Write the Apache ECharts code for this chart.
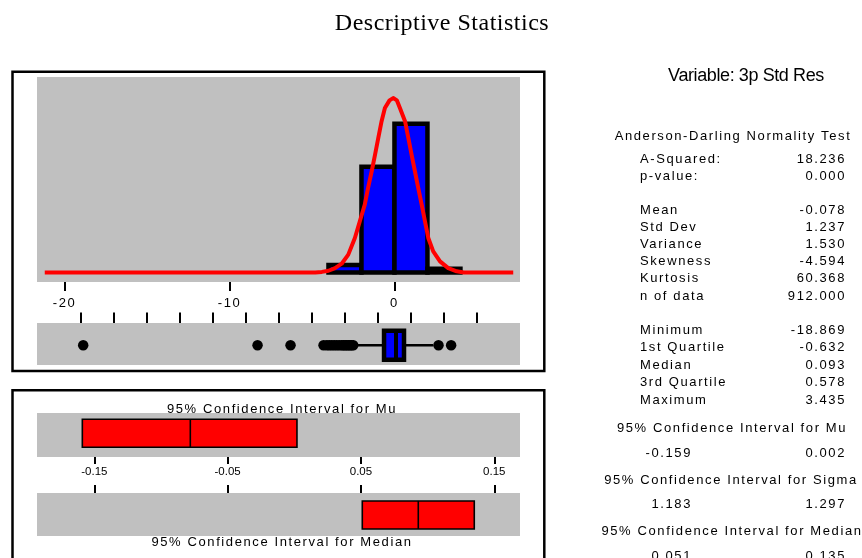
<!DOCTYPE html>
<html>
<head>
<meta charset="utf-8">
<script src="https://cdn.jsdelivr.net/npm/echarts@6/dist/echarts.min.js"></script>
<style>
  html, body { margin: 0; padding: 0; background: #fff; }
  #chart { width: 862px; height: 558px; }
</style>
</head>
<body>
<div id="chart"></div>
<script>
// ---- data -------------------------------------------------------------
// histogram of the standardized residuals (bin edges and counts)
const binLow    = [-4, -2, 0, 2];
const binHigh   = [-2,  0, 2, 4];
const binCounts = [26, 361, 508, 13];

// fitted normal curve, sampled along the axis
const curveX = [-21.2, -4.8, -4.4, -4.0, -3.6, -3.2, -2.8, -2.4, -2.1, -1.8, -1.6, -1.38, -1.18, -0.98, -0.78, -0.58, -0.3, -0.08, 0.15, 0.33, 0.64, 0.84, 1.04, 1.24, 1.44, 1.65, 1.85, 2.05, 2.35, 2.76, 3.26, 3.77, 4.2, 7.2];
const curveY = [0, 0, 2, 6, 15, 30, 61, 118, 175, 232, 289, 346, 402, 460, 517, 562, 588, 596, 588, 562, 517, 460, 402, 346, 289, 232, 175, 118, 72, 38, 15, 4, 0, 0];

// box plot
const quartiles = [-0.632, 0.093, 0.578];
const whiskers  = [-2.42, 2.35];
const outliers  = [-18.869, -8.3, -6.3, -4.3, -4.1, -3.95, -3.8, -3.65, -3.5, -3.35, -3.2, -3.1, -3.0, -2.9, -2.8, -2.7, -2.6, -2.5, 2.67, 3.435];

// confidence intervals [low, centre, high]
const muCI     = [-0.159, -0.078, 0.002];
const medianCI = [0.051, 0.093, 0.135];
const sigmaCI  = [1.183, 1.297];

// summary table
const adTest   = [['A-Squared:', 18.236], ['p-value:', 0.000]];
const moments  = [['Mean', -0.078], ['Std Dev', 1.237], ['Variance', 1.530], ['Skewness', -4.594], ['Kurtosis', 60.368], ['n of data', 912.000]];
const orderStats = [['Minimum', -18.869], ['1st Quartile', quartiles[0]], ['Median', quartiles[1]], ['3rd Quartile', quartiles[2]], ['Maximum', 3.435]];

// axis ticks
const histTicks = [-20, -10, 0];
const boxTicks  = [-19, -17, -15, -13, -11, -9, -7, -5, -3, -1, 1, 3, 5];
const ciTicks   = [-0.15, -0.05, 0.05, 0.15];

// ---- letter tracking per font family (canvas letterSpacing) ------------
const TRACKING = [
  [/Liberation Serif/, '0.5px'],
  [/Helvetica/, '0px'],
  [/Arial/, '-0.4px'],
  [/Liberation Sans/, '1.6px']
];
const nativeFillText = CanvasRenderingContext2D.prototype.fillText;
CanvasRenderingContext2D.prototype.fillText = function (text, x, y, maxWidth) {
  let sp = '0px';
  for (const [re, v] of TRACKING) { if (re.test(this.font)) { sp = v; break; } }
  if ('letterSpacing' in this) this.letterSpacing = sp;
  return maxWidth === undefined ? nativeFillText.call(this, text, x, y) : nativeFillText.call(this, text, x, y, maxWidth);
};

const F_WIDE  = '"Liberation Sans"';
const F_TIGHT = 'Arial, "Liberation Sans"';
const F_PLAIN = 'Helvetica, "Liberation Sans"';
const F_TITLE = '"Liberation Serif"';

const GRAY = '#c0c0c0';
const X_MIN = -21.67, X_MAX = 7.61;
const CI_MIN = -0.193, CI_MAX = 0.1693;

function fmt(v) { return v.toFixed(3); }
function txt(text, x, y, size, family, align) {
  return { type: 'text', x: x, y: y, z: 20, silent: true,
    style: { text: text, fontSize: size, fontFamily: family, fill: '#000',
      textAlign: align || 'left', textVerticalAlign: 'middle' } };
}

// ---- frames and summary text ---------------------------------------------
const graphics = [];
graphics.push({ type: 'rect', z: 1, shape: { x: 12.5, y: 71.8, width: 531.8, height: 299.2 },
  style: { fill: 'none', stroke: '#000', lineWidth: 2.5 } });
graphics.push({ type: 'rect', z: 1, shape: { x: 12.5, y: 390.2, width: 531.8, height: 220 },
  style: { fill: 'none', stroke: '#000', lineWidth: 2.5 } });

graphics.push(txt('Descriptive Statistics', 442, 24, 24, F_TITLE, 'center'));
graphics.push(txt('Variable: 3p Std Res', 746, 76, 18, F_TIGHT, 'center'));
graphics.push(txt('Anderson-Darling Normality Test', 733, 136, 13, F_WIDE, 'center'));

const LX = 640, RX = 846, LRX = 692;
const adY = [159, 176.5];
adTest.forEach((r, i) => { graphics.push(txt(r[0], LX, adY[i], 13, F_WIDE)); graphics.push(txt(fmt(r[1]), RX, adY[i], 13, F_WIDE, 'right')); });
moments.forEach((r, i) => { const y = 210.5 + i * 17.1; graphics.push(txt(r[0], LX, y, 13, F_WIDE)); graphics.push(txt(fmt(r[1]), RX, y, 13, F_WIDE, 'right')); });
orderStats.forEach((r, i) => { const y = 330.5 + i * 17.4; graphics.push(txt(r[0], LX, y, 13, F_WIDE)); graphics.push(txt(fmt(r[1]), RX, y, 13, F_WIDE, 'right')); });

graphics.push(txt('95% Confidence Interval for Mu', 732, 428, 13, F_WIDE, 'center'));
graphics.push(txt(fmt(muCI[0]), LRX, 453.5, 13, F_WIDE, 'right'));
graphics.push(txt(fmt(muCI[2]), RX, 453.5, 13, F_WIDE, 'right'));
graphics.push(txt('95% Confidence Interval for Sigma', 731, 480.5, 13, F_WIDE, 'center'));
graphics.push(txt(fmt(sigmaCI[0]), LRX, 504, 13, F_WIDE, 'right'));
graphics.push(txt(fmt(sigmaCI[1]), RX, 504, 13, F_WIDE, 'right'));
graphics.push(txt('95% Confidence Interval for Median', 732, 531.5, 13, F_WIDE, 'center'));
graphics.push(txt(fmt(medianCI[0]), LRX, 556.5, 13, F_WIDE, 'right'));
graphics.push(txt(fmt(medianCI[2]), RX, 556.5, 13, F_WIDE, 'right'));

graphics.push(txt('95% Confidence Interval for Mu', 282, 409.5, 13, F_WIDE, 'center'));
graphics.push(txt('95% Confidence Interval for Median', 282, 542.5, 13, F_WIDE, 'center'));

// ---- chart ------------------------------------------------------------
const chart = echarts.init(document.getElementById('chart'), null, { renderer: 'canvas' });

const hiddenY = (g, min, max) => ({ gridIndex: g, type: 'value', min: min, max: max, show: false });
const tickStyle = { color: '#000', width: 2 };
const noLine = { show: false, onZero: false };

function ciRenderer(centre) {
  return function (params, api) {
    const lo = api.coord([api.value(0), centre]);
    const mi = api.coord([api.value(1), centre]);
    const hi = api.coord([api.value(2), centre]);
    const h = 14;
    return { type: 'group', children: [
      { type: 'rect', shape: { x: lo[0], y: lo[1] - h, width: hi[0] - lo[0], height: 2 * h },
        style: { fill: '#ff0000', stroke: '#000', lineWidth: 1.6 } },
      { type: 'line', shape: { x1: mi[0], y1: lo[1] - h, x2: mi[0], y2: lo[1] + h },
        style: { stroke: '#000', lineWidth: 1.6 } }
    ] };
  };
}

const option = {
  animation: false,
  backgroundColor: '#fff',
  graphic: graphics,
  grid: [
    { left: 37, top: 77, width: 483, height: 205, show: true, backgroundColor: GRAY, borderWidth: 0 },
    { left: 37, top: 323, width: 483, height: 42, show: true, backgroundColor: GRAY, borderWidth: 0 },
    { left: 37, top: 413, width: 483, height: 44, show: true, backgroundColor: GRAY, borderWidth: 0 },
    { left: 37, top: 493, width: 483, height: 43, show: true, backgroundColor: GRAY, borderWidth: 0 }
  ],
  xAxis: [
    { gridIndex: 0, type: 'value', min: X_MIN, max: X_MAX, position: 'bottom',
      axisLine: noLine, splitLine: { show: false },
      axisTick: { show: true, customValues: histTicks, length: 9, lineStyle: tickStyle },
      axisLabel: { customValues: histTicks, margin: 15, color: '#000', fontSize: 13, fontFamily: F_WIDE } },
    { gridIndex: 1, type: 'value', min: X_MIN, max: X_MAX, position: 'top',
      axisLine: noLine, splitLine: { show: false },
      axisTick: { show: true, customValues: boxTicks, length: 10.5, lineStyle: tickStyle },
      axisLabel: { show: false } },
    { gridIndex: 2, type: 'value', min: CI_MIN, max: CI_MAX, position: 'bottom',
      axisLine: noLine, splitLine: { show: false },
      axisTick: { show: true, customValues: ciTicks, length: 7, lineStyle: tickStyle },
      axisLabel: { customValues: ciTicks, margin: 9, color: '#000', fontSize: 11.5, fontFamily: F_PLAIN,
        formatter: v => v.toFixed(2) } },
    { gridIndex: 3, type: 'value', min: CI_MIN, max: CI_MAX, position: 'top',
      axisLine: noLine, splitLine: { show: false },
      axisTick: { show: true, customValues: ciTicks, length: 8, lineStyle: tickStyle },
      axisLabel: { show: false } }
  ],
  yAxis: [hiddenY(0, -32.5, 668), hiddenY(1, 0, 1), hiddenY(2, 0, 1), hiddenY(3, 0, 1)],
  series: [
    { // histogram bars
      type: 'custom', xAxisIndex: 0, yAxisIndex: 0, z: 2,
      data: binCounts.map((c, i) => [binLow[i], binHigh[i], c]),
      encode: { x: [0, 1], y: 2 },
      renderItem: function (params, api) {
        const p0 = api.coord([api.value(0), api.value(2)]);
        const p1 = api.coord([api.value(1), 0]);
        return { type: 'rect', shape: { x: p0[0], y: p0[1], width: p1[0] - p0[0], height: p1[1] - p0[1] },
          style: { fill: '#0000ff', stroke: '#000', lineWidth: 4.5 } };
      }
    },
    { // normal curve
      type: 'line', xAxisIndex: 0, yAxisIndex: 0, z: 5,
      data: curveX.map((x, i) => [x, curveY[i]]),
      symbol: 'none', smooth: false,
      lineStyle: { color: '#ff0000', width: 4, join: 'round' }
    },
    { // box plot body and whiskers
      type: 'custom', xAxisIndex: 1, yAxisIndex: 1, z: 4,
      data: [[whiskers[0], quartiles[0], quartiles[1], quartiles[2], whiskers[1]]],
      encode: { x: [0, 1, 2, 3, 4] },
      renderItem: function (params, api) {
        const c = 0.47, h = 14.5;
        const w0 = api.coord([api.value(0), c]);
        const q1 = api.coord([api.value(1), c]);
        const md = api.coord([api.value(2), c]);
        const q3 = api.coord([api.value(3), c]);
        const w1 = api.coord([api.value(4), c]);
        return { type: 'group', children: [
          { type: 'line', shape: { x1: w0[0], y1: w0[1], x2: q1[0], y2: q1[1] }, style: { stroke: '#000', lineWidth: 2.5 } },
          { type: 'line', shape: { x1: q3[0], y1: q3[1], x2: w1[0], y2: w1[1] }, style: { stroke: '#000', lineWidth: 2.5 } },
          { type: 'rect', shape: { x: q1[0], y: q1[1] - h, width: q3[0] - q1[0], height: 2 * h },
            style: { fill: '#0000ff', stroke: '#000', lineWidth: 4.5 } },
          { type: 'line', shape: { x1: md[0], y1: md[1] - h, x2: md[0], y2: md[1] + h }, style: { stroke: '#000', lineWidth: 4 } }
        ] };
      }
    },
    { // outliers
      type: 'scatter', xAxisIndex: 1, yAxisIndex: 1, z: 5,
      data: outliers.map(v => [v, 0.47]),
      symbol: 'circle', symbolSize: 10.5,
      itemStyle: { color: '#000', opacity: 1 }
    },
    { // confidence interval for the mean
      type: 'custom', xAxisIndex: 2, yAxisIndex: 2, z: 4,
      data: [muCI], encode: { x: [0, 1, 2] },
      renderItem: ciRenderer(0.54)
    },
    { // confidence interval for the median
      type: 'custom', xAxisIndex: 3, yAxisIndex: 3, z: 4,
      data: [medianCI], encode: { x: [0, 1, 2] },
      renderItem: ciRenderer(0.49)
    }
  ]
};

chart.setOption(option);
</script>
</body>
</html>
